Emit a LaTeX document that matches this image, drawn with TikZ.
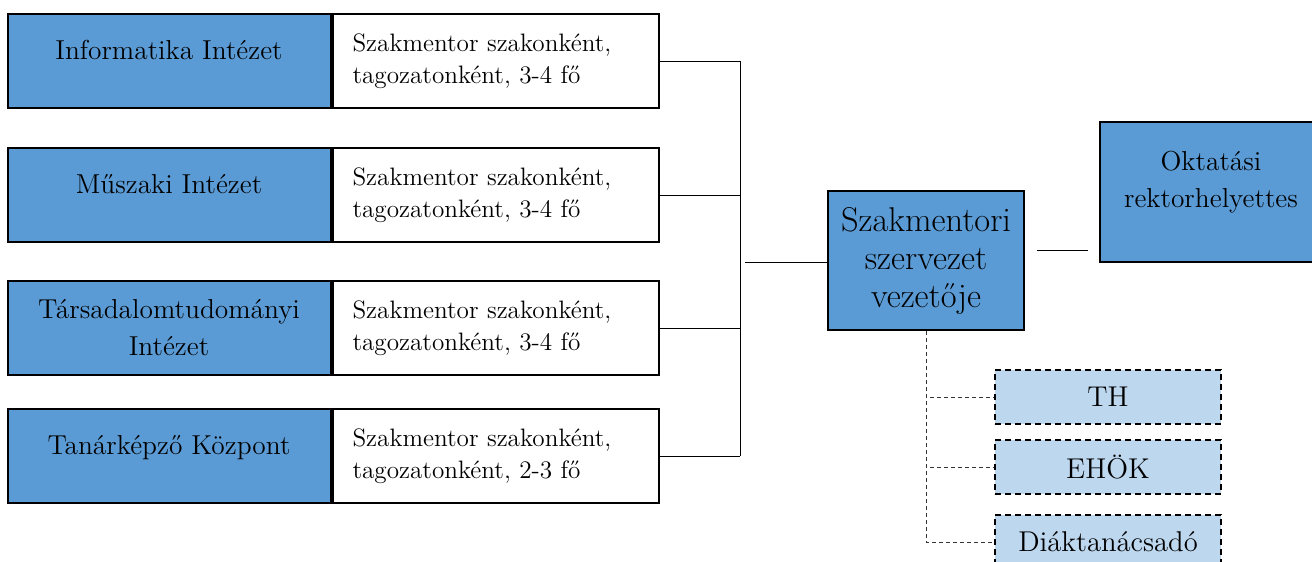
\documentclass[tikz,border=0pt]{standalone}
\usetikzlibrary{positioning, calc}
\definecolor{unitblue}{HTML}{5B9BD5}
\definecolor{helperblue}{HTML}{BDD7EE}

\begin{document}
\begin{tikzpicture}[x=0.5pt, y=-0.5pt,
    unit/.style={draw=black, line width=1pt, fill=unitblue, minimum width=161.5pt,
        minimum height=47pt, align=center, inner sep=2pt, font=\fontsize{13.7}{18.5}\selectfont},
    raised/.style={text depth=11pt},
    mentor/.style={draw=black, line width=1pt, fill=white, minimum height=47pt,
        text width=143pt, inner xsep=10pt, align=left, font=\fontsize{12.6}{16}\selectfont},
    lead/.style={draw=black, line width=1pt, fill=unitblue, minimum width=98pt,
        minimum height=69.5pt, align=center, font=\fontsize{17.2}{19}\selectfont},
    helper/.style={draw=black, line width=1pt, dash pattern=on 3pt off 2pt, fill=helperblue,
        minimum width=113pt, minimum height=27pt, font=\fontsize{14.3}{18}\selectfont},
    link/.style={draw=black, line width=0.5pt},
    helper link/.style={draw=black!80, line width=0.5pt, dash pattern=on 2pt off 1.5pt}]
        \useasboundingbox (0,0) rectangle (1312,562);
        % intezetek es szakmentorok
        \node[unit, raised] (info) at (169,61) {Informatika Intézet};
        \node[mentor, right=0pt of info] (infom) {Szakmentor szakonként,\\tagozatonként, 3-4 fő};
        \node[unit, raised] (musz) at (169,195) {Műszaki Intézet};
        \node[mentor, right=0pt of musz] (muszm) {Szakmentor szakonként,\\tagozatonként, 3-4 fő};
        \node[unit] (tars) at (169,328) {Társadalomtudományi\\Intézet};
        \node[mentor, right=0pt of tars] (tarsm) {Szakmentor szakonként,\\tagozatonként, 3-4 fő};
        \node[unit, raised] (tanar) at (169,456) {Tanárképző Központ};
        \node[mentor, right=0pt of tanar] (tanarm) {Szakmentor szakonként,\\tagozatonként, 2-3 fő};
        % vezetes
        \node[lead] (szv) at (926,260.5) {Szakmentori\\szervezet\\vezetője};
        \node[lead, minimum width=111pt, minimum height=70pt, text depth=12.5pt,
                font=\fontsize{13.7}{18.5}\selectfont]
                (okt) at (1211,192) {Oktatási\\rektorhelyettes};
        \node[helper] (th) at (1108,397) {TH};
        \node[helper] (ehok) at (1108,467) {EHÖK};
        \node[helper] (diak) at (1108,542) {Diáktanácsadó};
        \coordinate (bus) at (740,262);
        \foreach \n in {infom, muszm, tarsm, tanarm}
                \draw[link] (\n.east) -- (\n.east -| bus);
        \draw[link] (infom.east -| bus) -- (tanarm.east -| bus);
        \draw[link, shorten <=2.5pt] (bus) -- (bus -| szv.west);
        \draw[link, shorten <=6pt, shorten >=5.5pt]
                ([yshift=5.25pt]szv.east) -- ([yshift=5.25pt]szv.east -| okt.west);
        \draw[helper link]
                (szv.south) |- (th.west)
                (szv.south) |- (ehok.west)
                (szv.south) |- (diak.west);
\end{tikzpicture}
\end{document}
